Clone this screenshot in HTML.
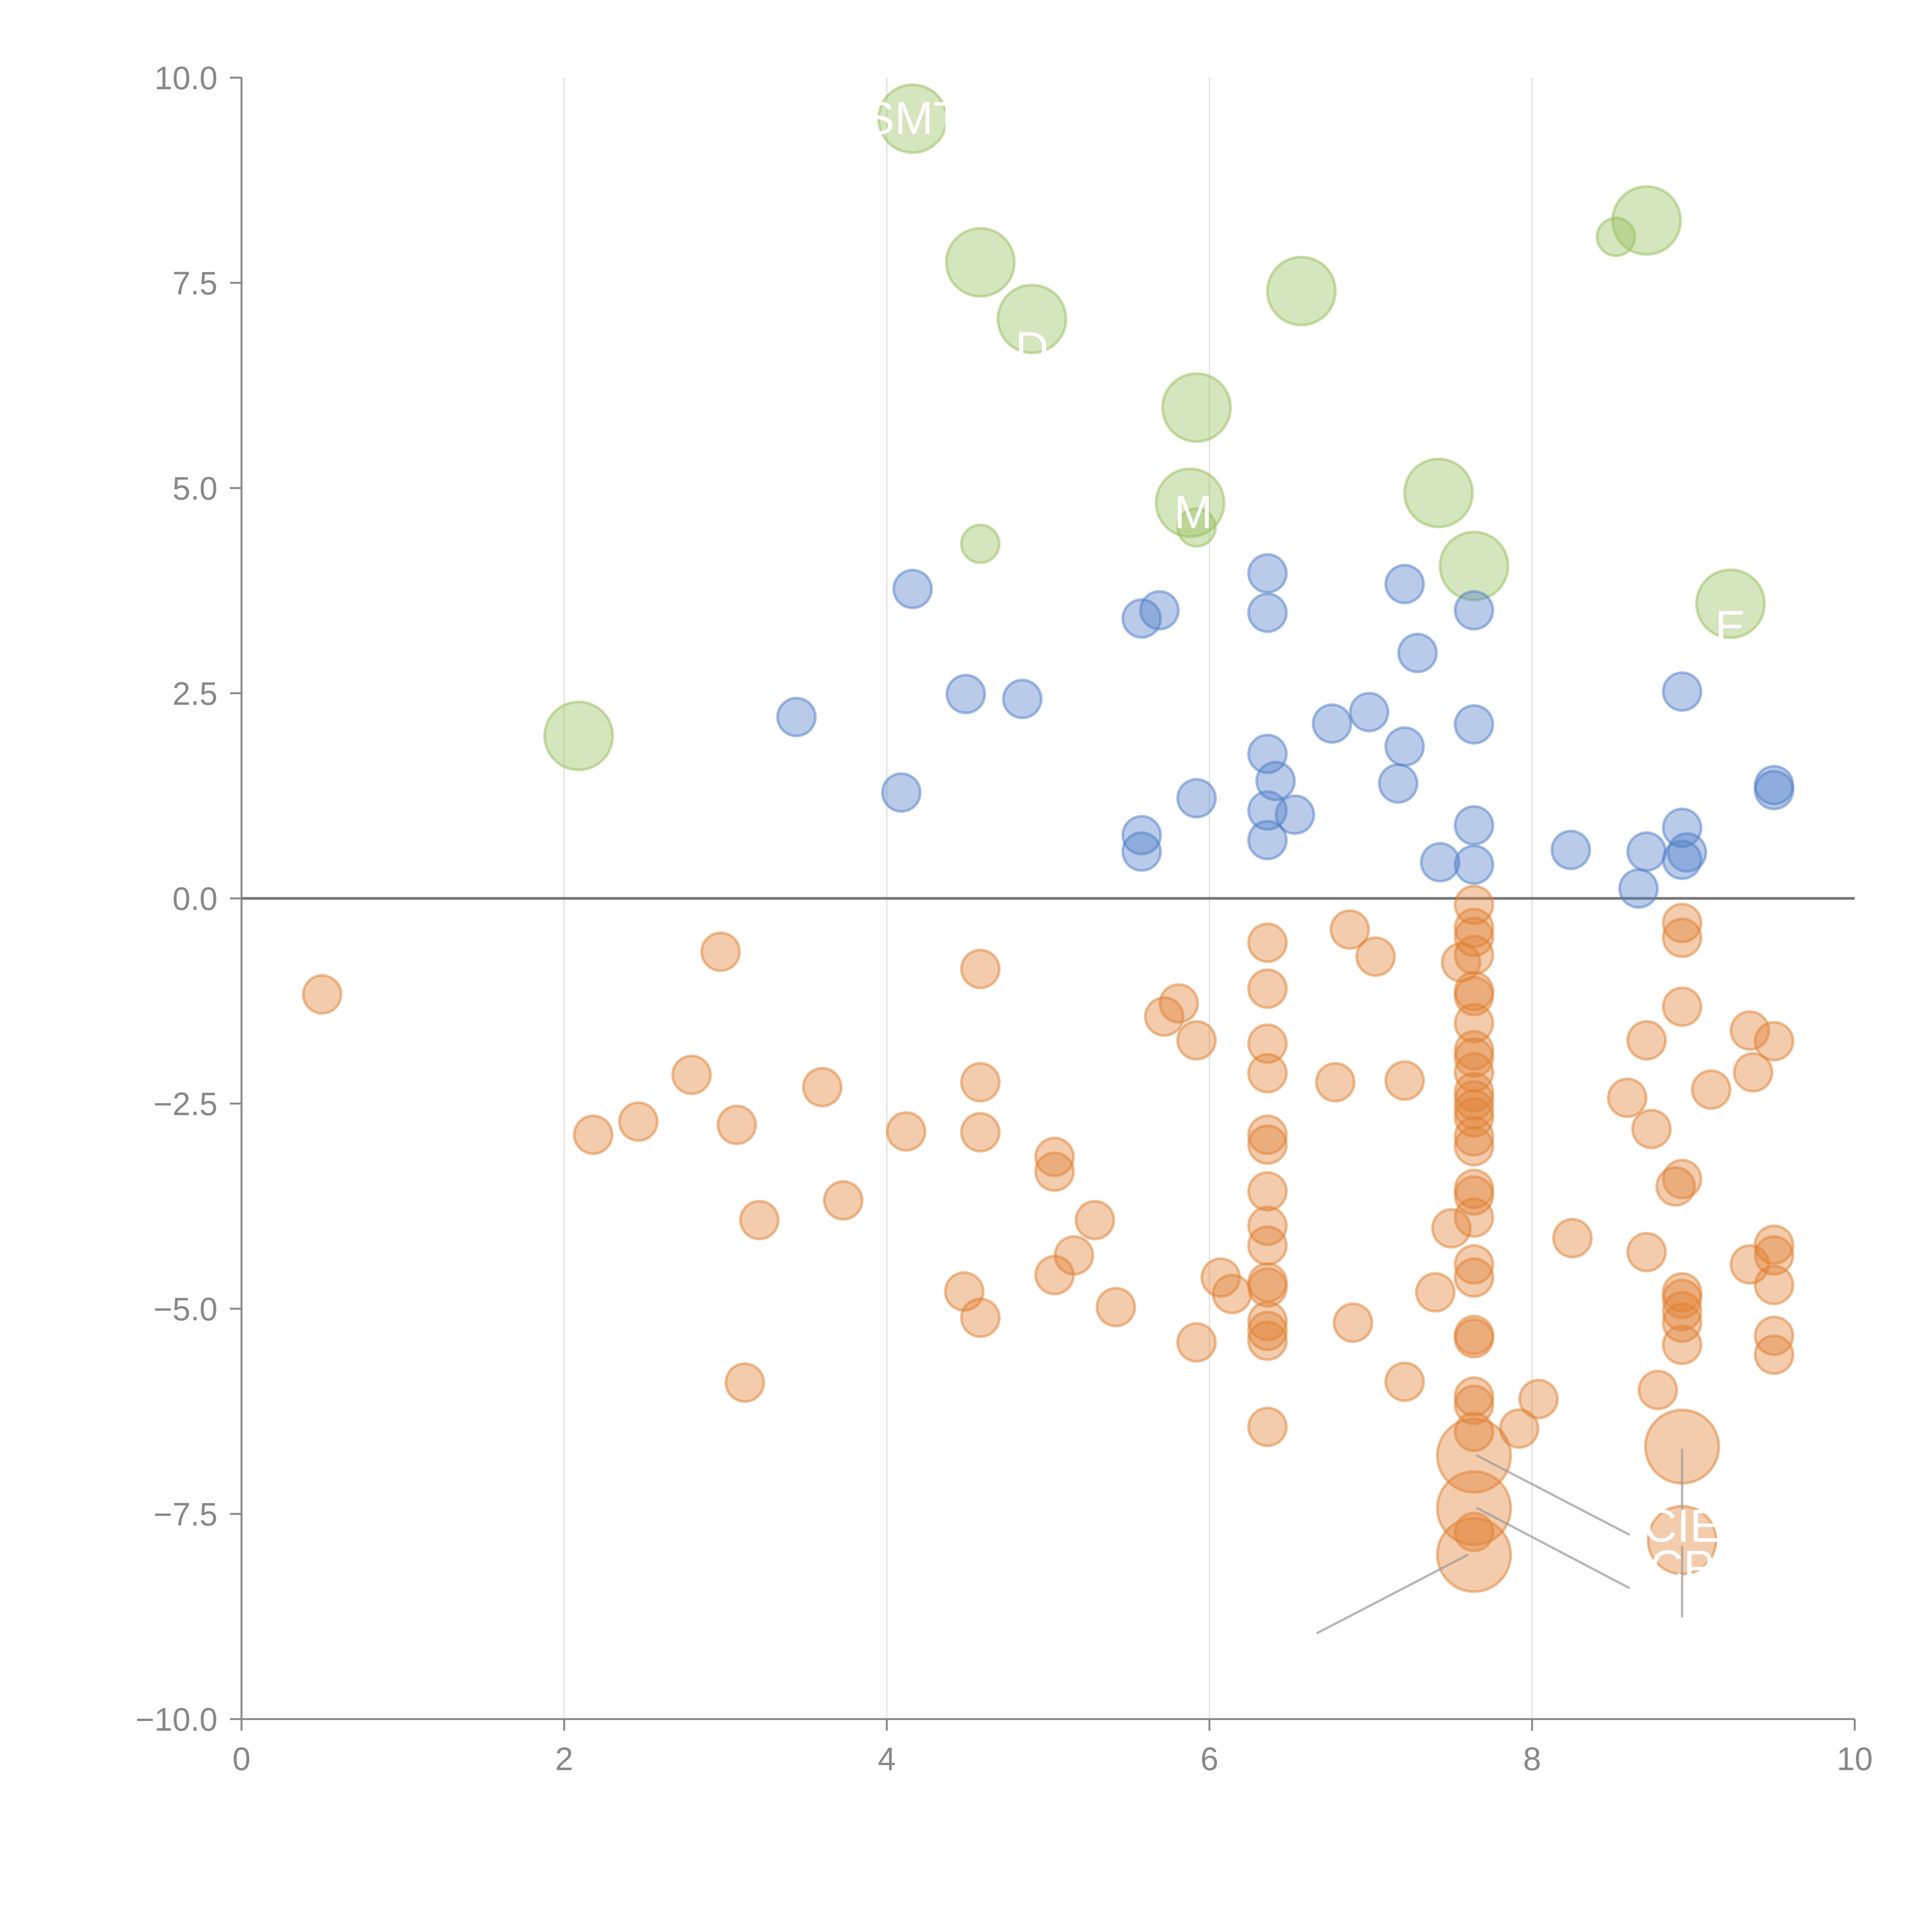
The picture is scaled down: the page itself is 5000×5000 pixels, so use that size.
<!DOCTYPE html>
<html><head><meta charset="utf-8"><style>
html,body{margin:0;padding:0;background:#fff;}
svg{display:block;font-family:"Liberation Sans",Arial,sans-serif;}
</style></head><body>
<svg id="chart" width="5000" height="5000" viewBox="0 0 5000 5000" xmlns="http://www.w3.org/2000/svg">
<g id="grid"></g>
<g id="axes"></g>
<g id="marks"></g>
<g id="annot"></g>
</svg>
<script>
const xTicks=[0,2,4,6,8,10];
const xTickLabels=["0","2","4","6","8","10"];
const yTicks=[10,7.5,5,2.5,0,-2.5,-5,-7.5,-10];
const yTickLabels=["10.0","7.5","5.0","2.5","0.0","\u22122.5","\u22125.0","\u22127.5","\u221210.0"];

const greenX=[4.16,4.58,4.90,6.57,8.71,8.52,5.92,5.88,5.92,4.58,7.42,7.64,9.23,2.09];
const greenY=[9.50,7.75,7.06,7.40,8.26,8.06,5.98,4.82,4.52,4.32,4.94,4.05,3.59,1.98];
const greenS=[3,3,3,3,3,1,3,3,1,1,3,3,3,3];

const blueX=[4.16,3.44,4.09,4.49,4.84,5.58,5.69,5.58,5.58,5.92,6.36,6.36,6.36,6.41,6.36,6.53,6.36,6.76,6.99,7.21,7.29,7.21,7.17,7.43,7.64,7.64,7.64,7.64,8.24,8.66,8.71,8.93,8.93,8.93,8.96,9.50,9.50];
const blueY=[3.77,2.21,1.29,2.49,2.43,3.41,3.51,0.77,0.57,1.22,3.96,3.48,1.76,1.43,1.07,1.02,0.71,2.13,2.27,3.83,2.99,1.85,1.40,0.44,3.51,2.12,0.89,0.41,0.59,0.12,0.57,2.52,0.86,0.47,0.56,1.38,1.32];

const orangeX=[0.50,2.18,2.46,2.79,2.97,3.07,3.12,3.21,3.60,3.73,4.12,4.48,4.58,4.58,4.58,4.58,5.04,5.04,5.04,5.16,5.29,5.42,5.72,5.81,5.92,5.92,6.07,6.14,
6.36,6.36,6.36,6.36,6.36,6.36,6.36,6.36,6.36,6.36,6.36,6.36,6.36,6.36,6.36,
6.78,6.87,6.89,7.03,7.21,7.21,7.40,7.50,7.56,
7.64,7.64,7.64,7.64,7.64,7.64,7.64,7.64,7.64,7.64,7.64,7.64,7.64,7.64,7.64,7.64,7.64,7.64,7.64,7.64,7.64,7.64,7.64,7.64,7.64,7.64,7.64,7.64,7.64,7.64,
7.92,8.04,8.25,8.59,8.71,8.74,8.71,8.78,8.89,8.93,8.93,8.93,8.93,8.93,8.93,8.93,8.93,8.93,8.93,8.93,9.11,9.35,9.37,9.35,9.50,9.50,9.50,9.50,9.50,9.50];
const orangeY=[-1.17,-2.88,-2.72,-2.15,-0.65,-2.76,-5.90,-3.92,-2.30,-3.68,-2.84,-4.79,-0.86,-2.24,-2.85,-5.11,-3.15,-3.33,-4.59,-4.35,-3.92,-4.98,-1.44,-1.28,-1.73,-5.41,-4.62,-4.82,
-0.54,-1.10,-1.77,-2.13,-2.88,-3.00,-3.57,-3.99,-4.23,-4.68,-4.74,-5.15,-5.27,-5.39,-6.44,
-2.24,-0.38,-5.17,-0.71,-2.22,-5.89,-4.80,-4.02,-0.78,
-0.08,-0.36,-0.47,-0.69,-1.13,-1.19,-1.52,-1.85,-1.94,-2.12,-2.36,-2.46,-2.57,-2.67,-2.90,-3.02,-3.54,-3.62,-3.89,-4.46,-4.62,-5.32,-5.36,-6.07,-6.17,-6.50,-7.72,-6.79,-7.43,-8.00,
-6.46,-6.10,-4.14,-2.43,-1.73,-2.81,-4.31,-5.99,-3.51,-0.30,-0.48,-1.32,-3.42,-4.80,-4.88,-5.03,-5.17,-5.44,-6.68,-7.82,-2.33,-1.61,-2.12,-4.46,-1.74,-4.22,-4.35,-4.71,-5.33,-5.56];
const orangeS=[1,1,1,1,1,1,1,1,1,1,1,1,1,1,1,1,1,1,1,1,1,1,1,1,1,1,1,1,
1,1,1,1,1,1,1,1,1,1,1,1,1,1,1,
1,1,1,1,1,1,1,1,1,
1,1,1,1,1,1,1,1,1,1,1,1,1,1,1,1,1,1,1,1,1,1,1,1,1,1,1,4,4,4,
1,1,1,1,1,1,1,1,1,1,1,1,1,1,1,1,1,1,4,3,1,1,1,1,1,1,1,1,1,1];

const X0=625,X1=4800,Y0=4449,Y1=201;
function sx(v){return X0+(v-0)/(10-0)*(X1-X0);}
function sy(v){return Y0-(v+10)/20*(Y0-Y1);}
function rr(s){return s===1?49:(s===3?88:95);}
const NS="http://www.w3.org/2000/svg";
function mk(tag,attrs,parent){const e=document.createElementNS(NS,tag);for(const k in attrs)e.setAttribute(k,attrs[k]);parent.appendChild(e);return e;}

const grid=document.getElementById('grid'),axes=document.getElementById('axes'),marks=document.getElementById('marks'),annot=document.getElementById('annot');

xTicks.forEach((t,i)=>{
  if(t>0&&t<10){const g=mk('line',{x1:sx(t),x2:sx(t),y1:Y1,y2:Y0,stroke:'#dddddd','stroke-width':3},grid);
  
  }
  const tk=mk('line',{x1:sx(t),x2:sx(t),y1:Y0,y2:Y0+30,stroke:'#888','stroke-width':5},axes);
  
  
  const tx=mk('text',{x:sx(t),y:Y0+132,'text-anchor':'middle','font-size':84,fill:'#888'},axes);
  tx.textContent=xTickLabels[i];
  
  
});
yTicks.forEach((t,i)=>{
  const tk=mk('line',{x1:X0-30,x2:X0,y1:sy(t),y2:sy(t),stroke:'#888','stroke-width':5},axes);
  
  
  const tx=mk('text',{x:X0-62,y:sy(t)+30,'text-anchor':'end','font-size':84,fill:'#888'},axes);
  tx.textContent=yTickLabels[i];
  
  
});
let a=mk('line',{x1:X0,x2:X0,y1:Y1,y2:Y0,stroke:'#888','stroke-width':5},axes);


a=mk('line',{x1:X0,x2:X1,y1:Y0,y2:Y0,stroke:'#888','stroke-width':5},axes);



function series(xs,ys,ss,fill,name){
  xs.forEach((x,i)=>{
    const c=mk('circle',{cx:sx(x),cy:sy(ys[i]),r:ss?rr(ss[i]):49,fill:fill,'fill-opacity':0.4,stroke:fill,'stroke-opacity':0.5,'stroke-width':7},marks);
    
    
  });
}
series(greenX,greenY,greenS,'rgb(150,190,90)','green-bubble');
series(blueX,blueY,null,'rgb(80,125,200)','blue-bubble');
series(orangeX,orangeY,orangeS,'rgb(224,128,50)','orange-bubble');

a=mk('line',{x1:X0,x2:X1,y1:sy(0),y2:sy(0),stroke:'#777','stroke-width':7},axes);



const leaders=[[7.66,-6.79,8.6,-7.75],[7.66,-7.43,8.6,-8.4],[7.60,-8.00,6.67,-8.95],[8.93,-6.72,8.93,-7.55],[8.93,-7.9,8.93,-8.75]];
leaders.forEach(l=>{
  const e=mk('line',{x1:sx(l[0]),y1:sy(l[1]),x2:sx(l[2]),y2:sy(l[3]),stroke:'#999','stroke-opacity':0.7,'stroke-width':6,'stroke-linecap':'round'},annot);
  
  
});
const labs=[["SMT",4.16,9.5],["CIE",8.93,-7.65],["CP",8.93,-8.15],["M",5.9,4.7],["D",4.9,6.7],["E",9.23,3.3]];
labs.forEach(l=>{
  const t=mk('text',{x:sx(l[1]),y:sy(l[2])+40,'text-anchor':'middle','font-size':120,fill:'#fff'},annot);
  t.textContent=l[0];
  
  
});
</script>
</body></html>
